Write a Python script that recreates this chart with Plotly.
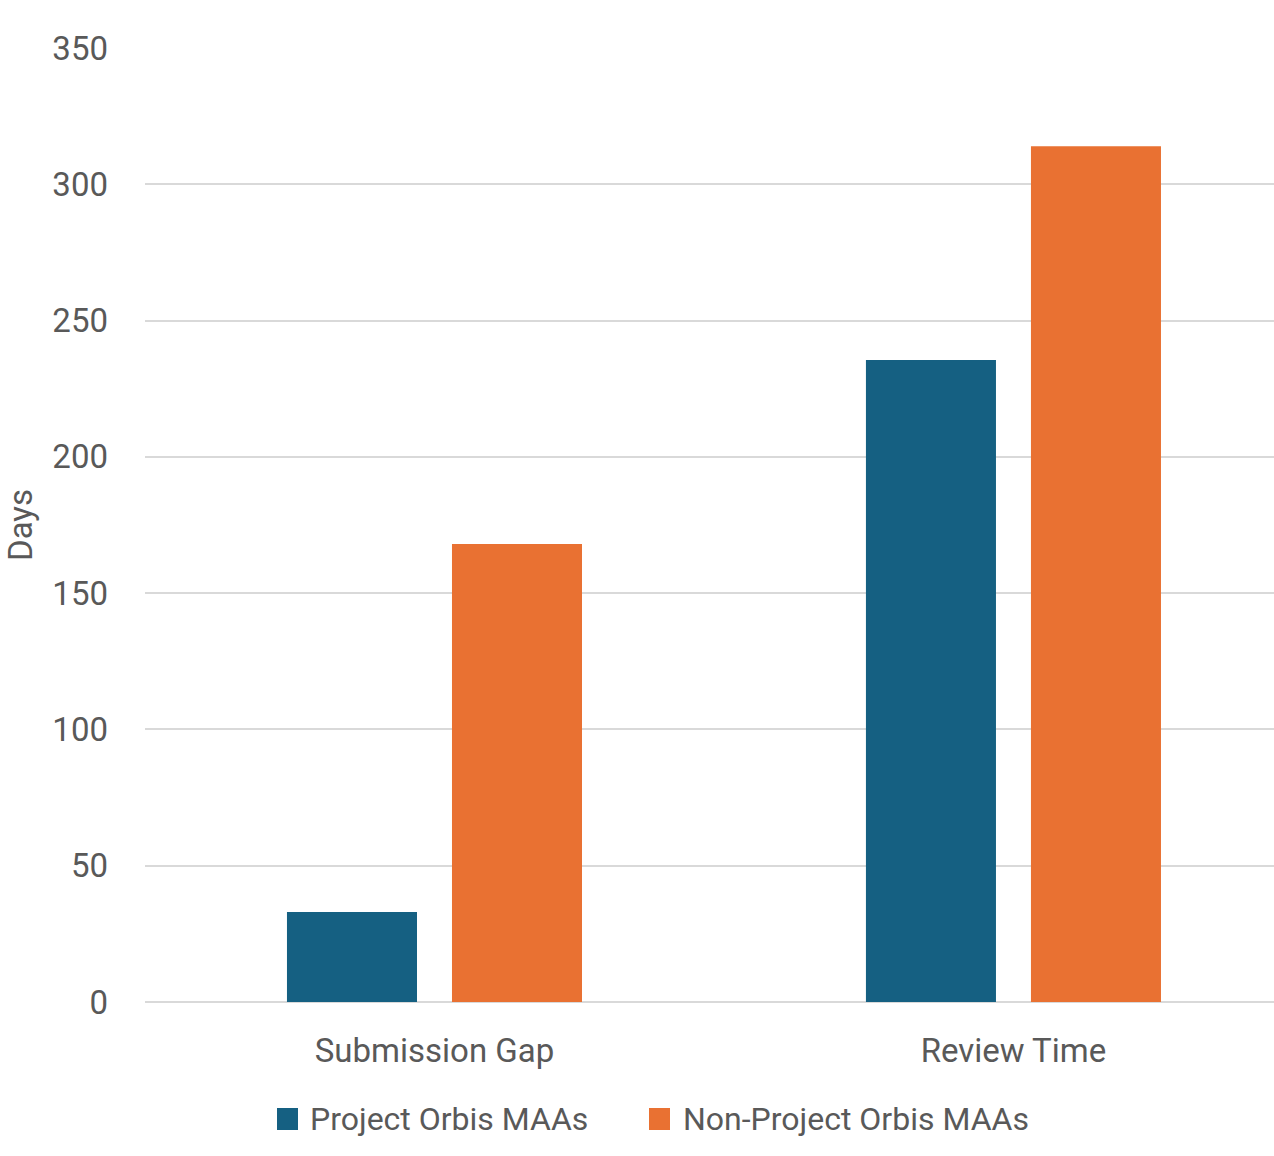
import plotly.graph_objects as go

categories = ["Submission Gap", "Review Time"]
series_names = ["Project Orbis MAAs", "Non-Project Orbis MAAs"]
orbis_values = [33, 235.5]
non_orbis_values = [168, 314]
y_ticks = [0, 50, 100, 150, 200, 250, 300, 350]

colors = ["#156082", "#E97132"]
font_family = "Roboto, 'Noto Sans', sans-serif"
text_color = "#595959"

W, H = 1274, 1156
ML, MR, MT, MB = 145, 0, 48, 154
PW, PH = W - ML - MR, H - MT - MB


def px_x(px):
    return (px - ML) / PW


def px_y(py):
    return (H - MB - py) / PH


fig = go.Figure()
for name, vals, col in zip(series_names, [orbis_values, non_orbis_values], colors):
    fig.add_trace(go.Bar(
        x=categories, y=vals, name=name, showlegend=False,
        marker=dict(color=col, line=dict(width=0)),
    ))

# custom legend (larger swatches, as in the reference)
legend_square_left = [277, 649]
legend_text_left = [308, 681]
shapes, annotations = [], []
for name, col, sx, tx in zip(series_names, colors, legend_square_left, legend_text_left):
    shapes.append(dict(type="rect", xref="paper", yref="paper",
                       x0=px_x(sx), x1=px_x(sx + 21), y0=px_y(1130), y1=px_y(1108),
                       fillcolor=col, line=dict(width=0)))
    annotations.append(dict(xref="paper", yref="paper", x=px_x(tx), y=px_y(1119),
                            xanchor="left", yanchor="middle", showarrow=False,
                            text=name, font=dict(size=32, color=text_color)))

fig.update_layout(
    width=W, height=H,
    margin=dict(l=ML, r=MR, t=MT, b=MB),
    paper_bgcolor="white", plot_bgcolor="white",
    barmode="group", bargap=0.43, bargroupgap=0.212,
    font=dict(family=font_family, color=text_color, size=33),
    showlegend=False,
    shapes=shapes, annotations=annotations,
)
fig.update_xaxes(
    range=[-0.5, 1.45], showgrid=False, showline=False, ticks="",
    tickfont=dict(size=33, color=text_color), ticklabelstandoff=26,
)
fig.update_yaxes(
    range=[0, 350], tickvals=y_ticks, showgrid=True, gridcolor="#d9d9d9", gridwidth=2,
    zeroline=True, zerolinecolor="#d9d9d9", zerolinewidth=2,
    showline=False, ticks="", ticklabelstandoff=36,
    tickfont=dict(size=33, color=text_color),
    title=dict(text="Days", font=dict(size=33, color=text_color), standoff=9),
)
fig.write_html("out.html")
